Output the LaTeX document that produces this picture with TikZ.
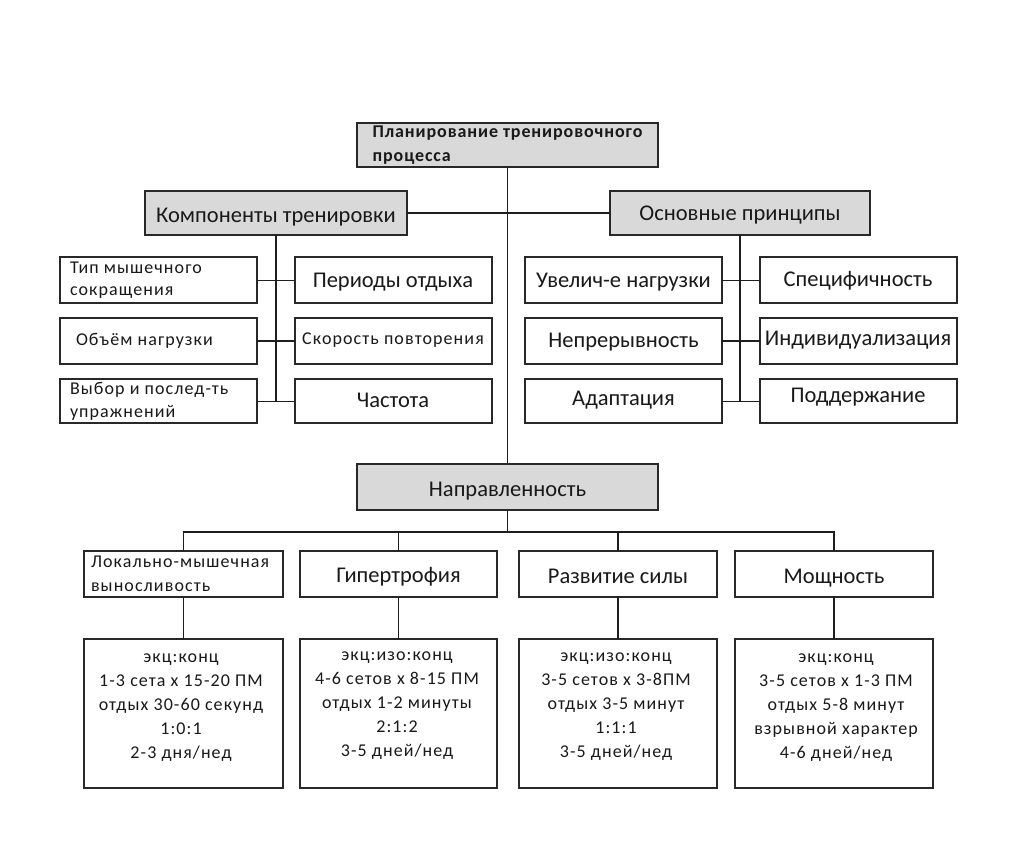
\documentclass[tikz,border=0pt]{standalone}
\usepackage{fontspec}
\setmainfont{Carlito}
\newfontfamily\lsfont{Carlito}[LetterSpace=6]
\newfontfamily\lstopfont{Carlito}[LetterSpace=5]
\definecolor{boxc}{RGB}{40,40,40}
\definecolor{linec}{RGB}{30,30,30}
\definecolor{grayc}{RGB}{217,217,217}
\definecolor{txtc}{RGB}{25,25,25}
\newcommand{\fbig}{\fontsize{22.5}{26}\selectfont}
\newcommand{\fsmall}{\lsfont\fontsize{18}{22}\selectfont}
\newcommand{\fsmallb}{\lsfont\fontsize{18}{23}\selectfont}
\newcommand{\fsmallc}{\lsfont\fontsize{18}{24}\selectfont}
\newcommand{\fdet}{\lsfont\fontsize{18}{24}\selectfont}
\newcommand{\ftop}{\lstopfont\fontsize{18}{24}\selectfont\bfseries}
\begin{document}
\begin{tikzpicture}[x=1pt,y=-1pt,
  box/.style={draw=boxc, line width=2pt, fill=white, inner sep=0pt, outer sep=0pt, text=txtc},
  graybox/.style={box, fill=grayc},
  conn/.style={draw=linec, line width=1.6pt},
  onebig/.style={font=\fbig, text height=14.5pt, text depth=0pt},
  onesmall/.style={font=\fsmall, text height=11.6pt, text depth=0pt},
  txt/.style={inner sep=0pt, text=txtc, align=center}]
\useasboundingbox (0,0) rectangle (1024,852);
\fill[white] (0,0) rectangle (1024,852);
% top
\node[graybox, minimum width=301pt, minimum height=44pt, align=flush left, font=\ftop] (top) at (507.5,145) {Планирование тренировочного\\процесса};
\node[graybox, minimum width=262pt, minimum height=44pt, onebig, text height=18.5pt] (komp) at (276,213) {Компоненты тренировки};
\node[graybox, minimum width=260pt, minimum height=44pt, onebig] (osn) at (740,213) {Основные принципы};
% components
\node[box, minimum width=197pt, minimum height=46pt, text width=177pt, align=flush left, font=\fsmall] (tip) at (158.5,280.3) {Тип мышечного\\сокращения};
\node[box, minimum width=197pt, minimum height=46pt, text width=165pt, align=flush left, onesmall, text depth=3pt] (obj) at (158.5,341) {Объём нагрузки};
\node[box, minimum width=197pt, minimum height=44pt, text width=177pt, align=flush left, font=\fsmallb] (vyb) at (158.5,401.3) {Выбор и послед-ть\\упражнений};
\node[box, minimum width=197pt, minimum height=46pt, onebig] (per) at (393,280.3) {Периоды отдыха};
\node[box, minimum width=197pt, minimum height=46pt, onesmall, text depth=4pt] (skor) at (393,341) {Скорость повторения};
\node[box, minimum width=197pt, minimum height=44pt, onebig, text depth=2pt] (chast) at (393,401.3) {Частота};
% principles
\node[box, minimum width=197pt, minimum height=46pt, onebig] (uvel) at (623.5,280.3) {Увелич-е нагрузки};
\node[box, minimum width=197pt, minimum height=46pt, onebig, text depth=2pt] (nepr) at (623.5,341) {Непрерывность};
\node[box, minimum width=197pt, minimum height=44pt, onebig, text depth=6pt] (adap) at (623.5,401.3) {Адаптация};
\node[box, minimum width=197pt, minimum height=46pt, onebig, text depth=2pt] (spec) at (858,280.3) {Специфичность};
\node[box, minimum width=197pt, minimum height=46pt, onebig, text depth=6pt] (indiv) at (858,341) {Индивидуализация};
\node[box, minimum width=197pt, minimum height=44pt, onebig, text depth=12pt] (podd) at (858,401.3) {Поддержание};
% napravlennost
\node[graybox, minimum width=301pt, minimum height=46pt, onebig, text height=18pt] (napr) at (507.5,487) {Направленность};
\node[box, minimum width=199pt, minimum height=46pt, text width=185pt, align=flush left, font=\fsmallc] (lok) at (183.5,574) {Локально-мышечная\\выносливость};
\node[box, minimum width=197pt, minimum height=46pt, onebig, text height=17.5pt] (gip) at (398.5,574) {Гипертрофия};
\node[box, minimum width=198pt, minimum height=46pt, onebig, text height=19.5pt] (raz) at (618,574) {Развитие силы};
\node[box, minimum width=198pt, minimum height=46pt, onebig, text height=19.5pt] (mosh) at (834,574) {Мощность};
% details
\node[box, minimum width=199pt, minimum height=149pt] (lokd) at (183.5,713.5) {};
\node[box, minimum width=197pt, minimum height=149pt] (gipd) at (398.5,713.5) {};
\node[box, minimum width=198pt, minimum height=149pt] (razd) at (618,713.5) {};
\node[box, minimum width=198pt, minimum height=149pt] (moshd) at (834,713.5) {};
\node[txt, font=\fdet] (lokt) at (181,708) {экц:конц\\1-3 сета x 15-20 ПМ\\отдых 30-60 секунд\\1:0:1\\2-3 дня/нед};
\node[txt, font=\fdet] (gipt) at (397,706) {экц:изо:конц\\4-6 сетов x 8-15 ПМ\\отдых 1-2 минуты\\2:1:2\\3-5 дней/нед};
\node[txt, font=\fdet] (razt) at (616,707) {экц:изо:конц\\3-5 сетов x 3-8ПМ\\отдых 3-5 минут\\1:1:1\\3-5 дней/нед};
\node[txt, font=\fdet] (mosht) at (836,708) {экц:конц\\3-5 сетов x 1-3 ПМ\\отдых 5-8 минут\\взрывной характер\\4-6 дней/нед};
% connectors
\draw[conn] (top.south) -- (napr.north);
\draw[conn] (komp.east) -- (osn.west);
\draw[conn] (komp.south) -- (komp.south |- vyb.east);
\draw[conn] (tip.east) -- (per.west);
\draw[conn] (obj.east) -- (skor.west);
\draw[conn] (vyb.east) -- (chast.west);
\draw[conn] (osn.south) -- (osn.south |- adap.east);
\draw[conn] (uvel.east) -- (spec.west);
\draw[conn] (nepr.east) -- (indiv.west);
\draw[conn] (adap.east) -- (podd.west);
\coordinate (busy) at (0,532);
\draw[conn] (napr.south) -- (napr.south |- busy);
\draw[conn] (lok.north) -- (lok.north |- busy) -- (mosh.north |- busy) -- (mosh.north);
\draw[conn] (gip.north) -- (gip.north |- busy);
\draw[conn] (raz.north) -- (raz.north |- busy);
\draw[conn] (lok.south) -- (lokd.north);
\draw[conn] (gip.south) -- (gipd.north);
\draw[conn] (raz.south) -- (razd.north);
\draw[conn] (mosh.south) -- (moshd.north);
\end{tikzpicture}
\end{document}
